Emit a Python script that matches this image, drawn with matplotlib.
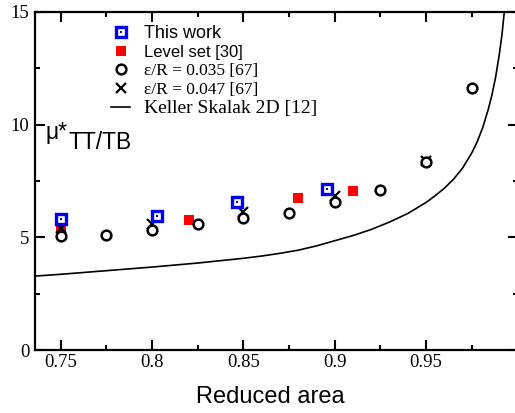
import matplotlib
matplotlib.use("Agg")
import matplotlib.pyplot as plt
from matplotlib.lines import Line2D
from matplotlib.ticker import MultipleLocator, FixedLocator, FixedFormatter

# ---- data ----
this_work_x = [0.75, 0.803, 0.8465, 0.896]
this_work_y = [5.80, 5.96, 6.55, 7.13]

level_set_x = [0.75, 0.82, 0.88, 0.91]
level_set_y = [5.33, 5.76, 6.76, 7.04]

eps035_x = [0.75, 0.775, 0.80, 0.825, 0.85, 0.875, 0.90, 0.925, 0.95, 0.975]
eps035_y = [5.08, 5.09, 5.33, 5.59, 5.84, 6.09, 6.58, 7.09, 8.35, 11.62]

eps047_x = [0.75, 0.80, 0.85, 0.90, 0.95]
eps047_y = [5.40, 5.59, 6.14, 6.85, 8.38]

keller_x = [0.736, 0.75, 0.775, 0.80, 0.825, 0.85, 0.86, 0.87, 0.88, 0.89,
            0.90, 0.91, 0.92, 0.93, 0.94, 0.95, 0.955, 0.96, 0.965, 0.97,
            0.975, 0.978, 0.981, 0.984, 0.986, 0.988, 0.990, 0.9915, 0.993]
keller_y = [3.28, 3.36, 3.52, 3.68, 3.86, 4.07, 4.17, 4.29, 4.43, 4.62,
            4.85, 5.08, 5.35, 5.68, 6.06, 6.55, 6.85, 7.18, 7.58, 8.08,
            8.75, 9.25, 9.88, 10.68, 11.32, 12.10, 13.10, 14.00, 15.20]

x_ticks = [0.75, 0.80, 0.85, 0.90, 0.95]
x_tick_labels = ["0.75", "0.8", "0.85", "0.9", "0.95"]
y_ticks = [0, 5, 10, 15]
y_tick_labels = ["0", "5", "10", "15"]

labels = ["This work", "Level set [30]", "ε/R = 0.035 [67]",
          "ε/R = 0.047 [67]", "Keller Skalak 2D [12]"]

SANS = "Liberation Sans"
SERIF = "Liberation Serif"

fig = plt.figure(figsize=(5.15, 4.13), dpi=100)
ax = fig.add_axes([0.068, 0.1525, 0.9369, 0.8185])

ax.plot(keller_x, keller_y, color="black", lw=1.2, zorder=2)
ax.plot(level_set_x, level_set_y, ls="none", marker="s", ms=7,
        mfc="red", mec="red", mew=0, zorder=3)
ax.plot(eps047_x, eps047_y, ls="none", marker="x", ms=7,
        mec="black", mew=1.6, zorder=4)
ax.plot(eps035_x, eps035_y, ls="none", marker="o", ms=7,
        mfc="white", mec="black", mew=1.8, zorder=5)
ax.plot(this_work_x, this_work_y, ls="none", marker="s", ms=7,
        mfc="white", mec="#0000ee", mew=2.4, zorder=6)
ax.plot(this_work_x, this_work_y, ls="none", marker="s", ms=2,
        mfc="#0000ee", mec="#0000ee", mew=0, zorder=7)

ax.set_xlim(0.736, 1.0)
ax.set_ylim(0, 15)

ax.xaxis.set_major_locator(FixedLocator(x_ticks))
ax.xaxis.set_major_formatter(FixedFormatter(x_tick_labels))
ax.xaxis.set_minor_locator(MultipleLocator(0.025))
ax.yaxis.set_major_locator(FixedLocator(y_ticks))
ax.yaxis.set_major_formatter(FixedFormatter(y_tick_labels))
ax.yaxis.set_minor_locator(MultipleLocator(2.5))

ax.tick_params(which="both", direction="in", top=True, right=True, width=1.5)
ax.tick_params(which="major", length=7)
ax.tick_params(which="minor", length=3.5)
ax.tick_params(axis="x", which="major", pad=3)
ax.tick_params(axis="y", which="major", pad=4)
for lab in ax.get_xticklabels() + ax.get_yticklabels():
    lab.set_fontfamily(SERIF)
    lab.set_fontsize(13.5)
for sp in ax.spines.values():
    sp.set_linewidth(1.6)

ax.set_xlabel("Reduced area", fontfamily=SANS, fontsize=17)
ax.xaxis.set_label_coords(0.487, -0.105)
ax.xaxis.label.set_verticalalignment("top")

# y quantity label inside the axes
ax.text(0.0207, 0.624, "μ*", transform=ax.transAxes, fontfamily=SANS,
        fontsize=16.5, va="baseline", ha="left")
ax.text(0.0684, 0.596, "TT/TB", transform=ax.transAxes, fontfamily=SANS,
        fontsize=16.5, va="baseline", ha="left")

# legend
h_this = (Line2D([], [], ls="none", marker="s", ms=7, mfc="white",
                 mec="#0000ee", mew=2.4),
          Line2D([], [], ls="none", marker="s", ms=2, mfc="#0000ee",
                 mec="#0000ee", mew=0))
h_ls = Line2D([], [], ls="none", marker="s", ms=7, mfc="red", mec="red", mew=0)
h_035 = Line2D([], [], ls="none", marker="o", ms=7, mfc="white",
               mec="black", mew=1.8)
h_047 = Line2D([], [], ls="none", marker="x", ms=7, mec="black", mew=1.6)
h_ks = Line2D([], [], color="black", lw=1.2)

leg = ax.legend([h_this, h_ls, h_035, h_047, h_ks], labels,
                loc="upper left", bbox_to_anchor=(0.158, 0.962),
                frameon=False, prop={"family": SERIF, "size": 12.5},
                handlelength=1.1, handletextpad=0.8, labelspacing=0.16,
                borderpad=0, borderaxespad=0)
texts = leg.get_texts()
texts[0].set_fontfamily(SANS); texts[0].set_fontsize(13)
texts[1].set_fontfamily(SANS); texts[1].set_fontsize(12)
texts[2].set_fontsize(12.5)
texts[3].set_fontsize(12.5)
texts[4].set_fontsize(14)

fig.savefig("out.png", dpi=100)
